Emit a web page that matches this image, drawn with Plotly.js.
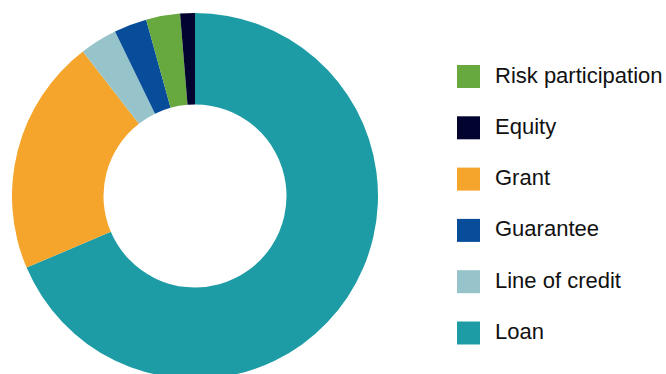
<!DOCTYPE html>
<html>
<head>
<meta charset="utf-8">
<script src="https://cdn.plot.ly/plotly-3.0.1.min.js"></script>
<style>
html, body { margin: 0; padding: 0; overflow: hidden; background: #fff; }
#chart { width: 666px; height: 380px; }
</style>
</head>
<body>
<div id="chart"></div>
<script>
// Slice data (clockwise from 12 o'clock), percentages
const sliceLabels = ["Loan", "Grant", "Line of credit", "Guarantee", "Risk participation", "Equity"];
const sliceValues = [68.6, 20.9, 3.3, 2.9, 3.0, 1.3];
const sliceColors = ["#1e9ca5", "#f5a52b", "#96c4ca", "#074d9a", "#67a83f", "#03032f"];

// Legend order as shown on the right
const legendLabels = ["Risk participation", "Equity", "Grant", "Guarantee", "Line of credit", "Loan"];

const W = 666, H = 380;
const colorOf = {};
sliceLabels.forEach((l, i) => { colorOf[l] = sliceColors[i]; });

const shapes = [];
const annotations = [];
legendLabels.forEach((lab, i) => {
  const cy = 76.5 + i * 51.3;
  shapes.push({
    type: "rect", xref: "paper", yref: "paper",
    x0: 457 / W, x1: 480 / W,
    y0: 1 - (cy + 11.5) / H, y1: 1 - (cy - 11.5) / H,
    fillcolor: colorOf[lab], line: { width: 0 }
  });
  annotations.push({
    xref: "paper", yref: "paper",
    x: 493 / W, y: 1 - (cy - 1.5) / H,
    xanchor: "left", yanchor: "middle",
    text: lab, showarrow: false,
    font: { family: "Liberation Sans, Arial, Helvetica, sans-serif", size: 22, color: "#111111" }
  });
});

const data = [{
  type: "pie",
  labels: sliceLabels,
  values: sliceValues,
  marker: { colors: sliceColors, line: { width: 0 } },
  hole: 0.5,
  sort: false,
  direction: "clockwise",
  rotation: 0,
  textinfo: "none",
  hoverinfo: "label+percent",
  showlegend: false,
  domain: { x: [12 / W, 378 / W], y: [1 - 379 / H, 1 - 13 / H] }
}];

const layout = {
  width: W, height: H,
  margin: { l: 0, r: 0, t: 0, b: 0 },
  paper_bgcolor: "#ffffff",
  showlegend: false,
  shapes: shapes,
  annotations: annotations
};

Plotly.newPlot("chart", data, layout, { displayModeBar: false, staticPlot: true });
</script>
</body>
</html>
